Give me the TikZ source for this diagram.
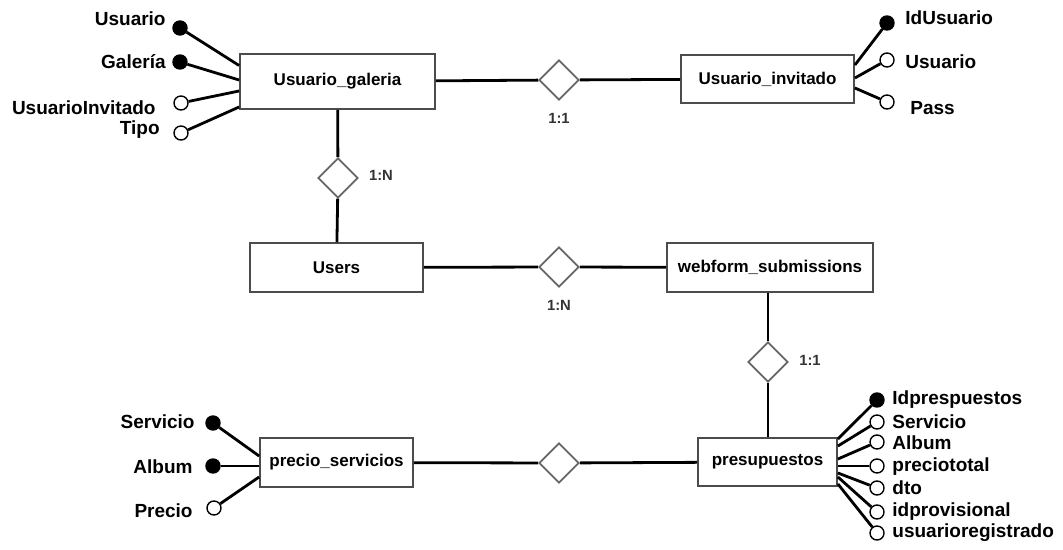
\documentclass[tikz,border=0pt]{standalone}
\usepackage{fontspec}
\setmainfont{Liberation Sans}
\usetikzlibrary{shapes.geometric}

\begin{document}
\begin{tikzpicture}[x=0.5pt, y=-0.5pt,
  entity/.style={rectangle, draw=black!70, line width=0.9pt, fill=white, font=\fontsize{8.5}{10}\selectfont\bfseries},
  rel/.style={diamond, draw=black!60, line width=0.9pt, fill=white, minimum width=20pt, minimum height=20pt, inner sep=0pt},
  keyattr/.style={circle, draw=black, fill=black, line width=0.7pt, minimum size=7pt, inner sep=0pt},
  attr/.style={circle, draw=black, fill=white, line width=0.7pt, minimum size=7pt, inner sep=0pt},
  lbl/.style={font=\fontsize{9.5}{11}\selectfont\bfseries, inner sep=0pt},
  card/.style={font=\fontsize{7.4}{9}\selectfont\bfseries, text=black!80, inner sep=0pt},
  link/.style={line width=1.4pt}]

\useasboundingbox (0,0) rectangle (1063,550);

% entities
\node [entity, minimum width=97.5pt, minimum height=27.5pt] (gal) at (337.5,81.5) {Usuario\_galeria};
\node [entity, minimum width=86.5pt, minimum height=24pt] (inv) at (767.5,79) {Usuario\_invitado};
\node [entity, minimum width=86.5pt, minimum height=24.5pt] (users) at (336.5,267.5) {Users};
\node [entity, minimum width=103pt, minimum height=24.5pt] (web) at (770,267.5) {webform\_submissions};
\node [entity, minimum width=69.5pt, minimum height=24pt] (pres) at (767.5,462) {presupuestos};
\node [entity, minimum width=76.5pt, minimum height=24.5pt] (prec) at (336.5,462.5) {precio\_servicios};

% relations
\node [rel] (r1) at (559,80) {};
\node [rel] (r2) at (338,178) {};
\node [rel] (r3) at (559,267) {};
\node [rel] (r4) at (768,362) {};
\node [rel] (r5) at (559,463) {};

\node [card] (c1) at (559,118) {1:1};
\node [card] (c2) at (381,175) {1:N};
\node [card] (c3) at (559,305) {1:N};
\node [card] (c4) at (810,360) {1:1};

\draw[link] (gal) -- (r1) -- (inv);
\draw[link] (gal) -- (r2) -- (users);
\draw[link] (users) -- (r3) -- (web);
\draw[link] (r4 |- web.south) -- (r4) -- (r4 |- pres.north);
\draw[link] (prec) -- (r5) -- (pres);

% Usuario_galeria
\node [keyattr] (ga1) at (180,28) {};
\node [keyattr] (ga2) at (180,62) {};
\node [attr] (ga3) at (181,103) {};
\node [attr] (ga4) at (181,133) {};
\node [lbl, anchor=east] (gl1) at (166,19) {Usuario};
\node [lbl, anchor=east] (gl2) at (166,62) {Galería};
\node [lbl, anchor=east] (gl3) at (156,108) {UsuarioInvitado};
\node [lbl, anchor=east] (gl4) at (160,130) {Tipo};
\draw[link] (ga1) -- ([yshift=8pt]gal.west);
\draw[link] (ga2) -- ([yshift=0.75pt]gal.west);
\draw[link] (ga3) -- ([yshift=-4.75pt]gal.west);
\draw[link] (ga4) -- ([yshift=-12.75pt]gal.west);

% Usuario_invitado
\node [keyattr] (ia1) at (887,23) {};
\node [attr] (ia2) at (887,60) {};
\node [attr] (ia3) at (887,102) {};
\node [lbl, anchor=west] (il1) at (905,18) {IdUsuario};
\node [lbl, anchor=west] (il2) at (905,62) {Usuario};
\node [lbl, anchor=west] (il3) at (910,108) {Pass};
\draw[link] (ia1) -- ([yshift=7pt]inv.east);
\draw[link] (ia2) -- ([yshift=0.5pt]inv.east);
\draw[link] (ia3) -- ([yshift=-4.5pt]inv.east);

% precio_servicios
\node [keyattr] (pa1) at (213,423) {};
\node [keyattr] (pa2) at (213,466) {};
\node [attr] (pa3) at (214,508) {};
\node [lbl, anchor=east] (pl1) at (195,422) {Servicio};
\node [lbl, anchor=east] (pl2) at (193,467) {Album};
\node [lbl, anchor=east] (pl3) at (193,511) {Precio};
\draw[link] (pa1) -- ([yshift=3.25pt]prec.west);
\draw[link] (pa2) -- ([yshift=-1.75pt]prec.west);
\draw[link] (pa3) -- ([yshift=-7.25pt]prec.west);

% presupuestos
\node [keyattr] (sa1) at (877,400) {};
\node [attr] (sa2) at (877,422) {};
\node [attr] (sa3) at (877,442) {};
\node [attr] (sa4) at (877,466) {};
\node [attr] (sa5) at (877,488) {};
\node [attr] (sa6) at (877,512) {};
\node [attr] (sa7) at (877,533) {};
\node [lbl, anchor=west] (sl1) at (892,400) {Idprespuestos};
\node [lbl, anchor=west] (sl2) at (892,422) {Servicio};
\node [lbl, anchor=west] (sl3) at (892,443) {Album};
\node [lbl, anchor=west] (sl4) at (892,467) {preciototal};
\node [lbl, anchor=west] (sl5) at (892,488) {dto};
\node [lbl, anchor=west] (sl6) at (892,512) {idprovisional};
\node [lbl, anchor=west] (sl7) at (892,533) {usuarioregistrado};
\draw[link] (sa1) -- ([yshift=11.5pt]pres.east);
\draw[link] (sa2) -- ([yshift=8pt]pres.east);
\draw[link] (sa3) -- ([yshift=1.5pt]pres.east);
\draw[link] (sa4) -- ([yshift=-2pt]pres.east);
\draw[link] (sa5) -- ([yshift=-5.5pt]pres.east);
\draw[link] (sa6) -- ([yshift=-7.5pt]pres.east);
\draw[link] (sa7) -- ([yshift=-11pt]pres.east);

\end{tikzpicture}
\end{document}
